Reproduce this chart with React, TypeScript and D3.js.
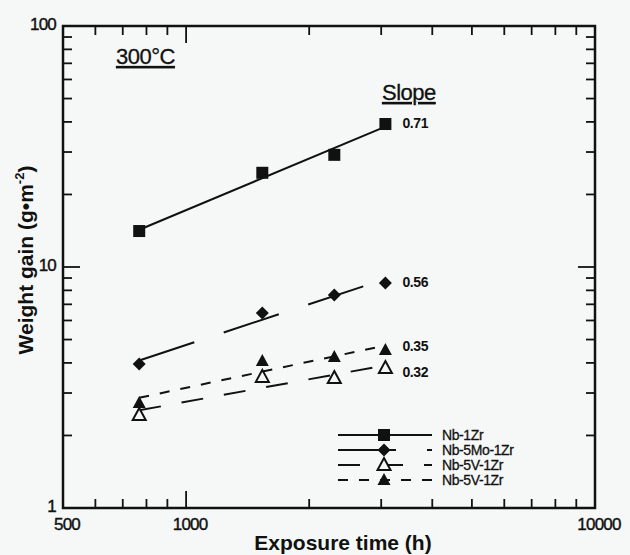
import React from 'react';
import * as d3 from 'd3';

// exposure times (h) and weight gains (g/m2)
const hours = [768, 1536, 2304, 3072];
const nb1Zr = [14.1, 24.6, 29.2, 39.2];
const nb5Mo1Zr = [3.96, 6.44, 7.65, 8.58];
const nb5V1ZrOpen = [2.43, 3.5, 3.46, 3.81];
const nb5V1ZrFilled = [2.73, 4.07, 4.23, 4.52];
const seriesNames = ['Nb-1Zr', 'Nb-5Mo-1Zr', 'Nb-5V-1Zr', 'Nb-5V-1Zr'];
const slopeLabels = ['0.71', '0.56', '0.32', '0.35'];
const xTickLabels = [500, 1000, 10000];
const yTickLabels = [1, 10, 100];

const W = 630;
const H = 555;
const margin = { top: 26, right: 35, bottom: 47, left: 63 };
const INK = '#111';
const BG = '#f6f8f7';
const FONT = "'Liberation Sans', Arial, sans-serif";

const series = [
  { name: seriesNames[0], values: nb1Zr, slope: slopeLabels[0], marker: 'square', dash: 'none', labelDy: 4 },
  { name: seriesNames[1], values: nb5Mo1Zr, slope: slopeLabels[1], marker: 'diamond', dash: '58,31', labelDy: 4 },
  { name: seriesNames[2], values: nb5V1ZrOpen, slope: slopeLabels[2], marker: 'triOpen', dash: '22,21', labelDy: 9 },
  { name: seriesNames[3], values: nb5V1ZrFilled, slope: slopeLabels[3], marker: 'triFilled', dash: '10,11', labelDy: 1 },
];

// least squares fit in log-log space
function fitLine(xs: number[], ys: number[]) {
  const lx = xs.map(Math.log10);
  const ly = ys.map(Math.log10);
  const mx = d3.mean(lx) as number;
  const my = d3.mean(ly) as number;
  const b = d3.sum(lx, (v, i) => (v - mx) * (ly[i] - my)) / d3.sum(lx, v => (v - mx) ** 2);
  const a = my - b * mx;
  return (x: number) => Math.pow(10, a + b * Math.log10(x));
}

function Marker({ type, x, y }: { type: string; x: number; y: number }) {
  if (type === 'square') return <rect x={x - 6} y={y - 6} width={12} height={12} fill={INK} />;
  if (type === 'diamond')
    return <path d={`M${x},${y - 6.5}L${x + 6.5},${y}L${x},${y + 6.5}L${x - 6.5},${y}Z`} fill={INK} />;
  const tri = `M${x},${y - 7}L${x + 6.5},${y + 5}L${x - 6.5},${y + 5}Z`;
  if (type === 'triOpen') return <path d={tri} fill={BG} stroke={INK} strokeWidth={2} />;
  return <path d={tri} fill={INK} />;
}

export default function App() {
  const x = d3.scaleLog().domain([500, 10000]).range([margin.left, W - margin.right]);
  const y = d3.scaleLog().domain([1, 100]).range([H - margin.bottom, margin.top]);
  const [x0, x1] = x.range();
  const [y0, y1] = y.range();

  const xMinor = [600, 700, 800, 900, 2000, 3000, 4000, 5000, 6000, 7000, 8000, 9000];
  const yMinor = [2, 3, 4, 5, 6, 7, 8, 9, 20, 30, 40, 50, 60, 70, 80, 90];
  const xMajor = [1000];
  const yMajor = [10];
  const minorLen = 9;
  const majorLen = 17;

  const legendX0 = 338;
  const legendX1 = 432;
  const legendMarkX = 384;
  const legendY = 435;
  const legendStep = 15;

  const lastX = x(hours[hours.length - 1]);

  return (
    <svg width={W} height={H} style={{ position: 'absolute', left: 0, top: 0, background: BG }} fontFamily={FONT}>
      <rect width={W} height={H} fill={BG} />

      {/* ticks on all four sides, pointing inward */}
      <g stroke={INK} strokeWidth={1.8}>
        {xMinor.map(t => (
          <g key={'xm' + t}>
            <line x1={x(t)} x2={x(t)} y1={y0} y2={y0 - minorLen} />
            <line x1={x(t)} x2={x(t)} y1={y1} y2={y1 + minorLen} />
          </g>
        ))}
        {xMajor.map(t => (
          <g key={'xM' + t}>
            <line x1={x(t)} x2={x(t)} y1={y0} y2={y0 - majorLen} />
            <line x1={x(t)} x2={x(t)} y1={y1} y2={y1 + majorLen} />
          </g>
        ))}
        {yMinor.map(t => (
          <g key={'ym' + t}>
            <line x1={x0} x2={x0 + minorLen} y1={y(t)} y2={y(t)} />
            <line x1={x1} x2={x1 - minorLen} y1={y(t)} y2={y(t)} />
          </g>
        ))}
        {yMajor.map(t => (
          <g key={'yM' + t}>
            <line x1={x0} x2={x0 + majorLen} y1={y(t)} y2={y(t)} />
            <line x1={x1} x2={x1 - majorLen} y1={y(t)} y2={y(t)} />
          </g>
        ))}
      </g>
      <rect x={x0} y={y1} width={x1 - x0} height={y0 - y1} fill="none" stroke={INK} strokeWidth={2.5} />

      {/* tick labels */}
      <g fontSize={17} fill={INK} stroke={INK} strokeWidth={0.4} letterSpacing={-0.8}>
        {xTickLabels.map(t => (
          <text key={'xl' + t} x={x(t) + 4} y={y0 + 22} textAnchor="middle">{t}</text>
        ))}
        {yTickLabels.map(t => (
          <text key={'yl' + t} x={x0 - 7} y={y(t) + 4} textAnchor="end">{t}</text>
        ))}
      </g>

      {/* axis titles */}
      <text x={343} y={550} textAnchor="middle" fontSize={21} fontWeight="bold" fill={INK}>
        Exposure time (h)
      </text>
      <text transform={`translate(33,260) rotate(-90)`} textAnchor="middle" fontSize={21} fontWeight="bold" fill={INK}>
        Weight gain (g•m<tspan fontSize={13} dy={-9}>-2</tspan><tspan dy={9}>)</tspan>
      </text>

      {/* in-plot annotations */}
      <g fontSize={22} fill={INK} stroke={INK} strokeWidth={0.3} letterSpacing={-0.5}>
        <text x={116} y={64} textDecoration="underline">300°C</text>
        <text x={382} y={100} textDecoration="underline">Slope</text>
      </g>

      {/* fitted lines and markers */}
      {series.map((s, i) => {
        const f = fitLine(hours, s.values);
        const lineGen = d3.line<number>().x(h => x(h)).y(h => y(f(h)));
        const ends = [hours[0], hours[hours.length - 1]];
        return (
          <g key={'s' + i}>
            <path d={lineGen(ends) as string} fill="none" stroke={INK} strokeWidth={2}
              strokeDasharray={s.dash} />
            {hours.map((h, j) => (
              <Marker key={j} type={s.marker} x={x(h)} y={y(s.values[j])} />
            ))}
            <text x={lastX + 17} y={y(s.values[s.values.length - 1]) + s.labelDy}
              fontSize={14} fontWeight="bold" fill={INK} letterSpacing={-0.4}>{s.slope}</text>
          </g>
        );
      })}

      {/* legend */}
      {series.map((s, i) => {
        const ly = legendY + i * legendStep;
        return (
          <g key={'lg' + i}>
            <line x1={legendX0} x2={legendX1} y1={ly} y2={ly} stroke={INK} strokeWidth={2}
              strokeDasharray={s.dash} />
            <Marker type={s.marker} x={legendMarkX} y={ly} />
            <text x={442} y={ly + 5} fontSize={14} fill={INK} stroke={INK} strokeWidth={0.3}
              letterSpacing={-0.4}>{s.name}</text>
          </g>
        );
      })}
    </svg>
  );
}
